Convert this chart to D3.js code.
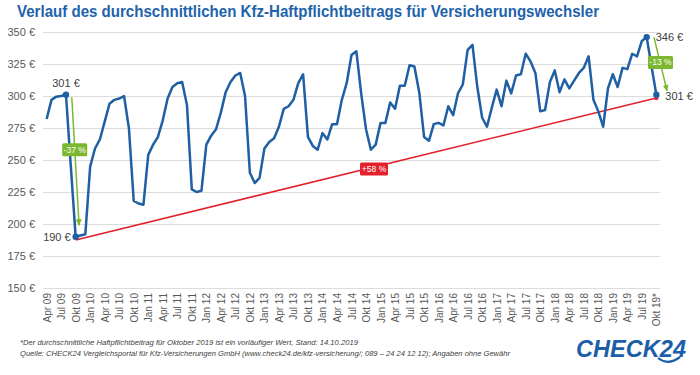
<!DOCTYPE html>
<html>
<head>
<meta charset="utf-8">
<script src="https://cdn.jsdelivr.net/npm/d3@7"></script>
<style>
  body { margin: 0; background: #fff; }
  svg { display: block; font-family: "Liberation Sans", Arial, sans-serif; }
  .axis text { fill: #595959; }
  .axis .domain { display: none; }
</style>
</head>
<body>
<div id="d3-container"></div>
<script>
// monthly premium in EUR, Apr 09 .. Okt 19
const values = [
  282, 297, 299.5, 300, 301, 245, 190, 191, 192,                 // 2009 (Apr-Dez)
  245, 259, 266, 280, 294, 297, 298, 300, 275, 218, 216, 215,    // 2010
  254, 262, 268, 281, 298, 307, 310, 311, 293, 227, 225, 226,    // 2011
  262, 269, 274, 287, 303, 311, 316, 318, 300, 240, 232, 236,    // 2012
  259, 264, 267, 276, 290, 292, 297, 310, 317, 268, 261, 258,    // 2013
  271, 266, 278, 278, 297, 310, 332, 335, 302, 274, 258, 262,    // 2014
  279, 279, 295, 290, 308, 308, 324, 323, 303, 268, 265, 278,    // 2015
  279, 277, 292, 285, 302, 309, 336, 340, 307, 283, 276, 291,    // 2016
  305, 292, 312, 302, 316, 317, 333, 327, 318, 288, 289, 311,    // 2017
  320, 303, 313, 306, 312, 318, 322, 331, 297, 288, 276, 306,    // 2018
  317, 307, 322, 321, 333, 331, 343, 346, 323, 301               // 2019 (Jan-Okt)
];
// one tick label every 3 months
const tickLabels = [
  "Apr 09", "Jul 09", "Okt 09",
  "Jan 10", "Apr 10", "Jul 10", "Okt 10",
  "Jan 11", "Apr 11", "Jul 11", "Okt 11",
  "Jan 12", "Apr 12", "Jul 12", "Okt 12",
  "Jan 13", "Apr 13", "Jul 13", "Okt 13",
  "Jan 14", "Apr 14", "Jul 14", "Okt 14",
  "Jan 15", "Apr 15", "Jul 15", "Okt 15",
  "Jan 16", "Apr 16", "Jul 16", "Okt 16",
  "Jan 17", "Apr 17", "Jul 17", "Okt 17",
  "Jan 18", "Apr 18", "Jul 18", "Okt 18",
  "Jan 19", "Apr 19", "Jul 19", "Okt 19*"
];
const yTicks = [150, 175, 200, 225, 250, 275, 300, 325, 350];
// highlighted points: [month index, value, label]
const marked = [[4, 301, "301 €"], [6, 190, "190 €"], [124, 346, "346 €"], [126, 301, "301 €"]];
// trend line Okt 09 -> Okt 19
const trend = [[6, 187.5], [126, 298.5]];
// drop arrows [[m, v], [m, v]] and their labels
const drops = [
  { from: [5.2, 299], to: [6.7, 199], label: "-37 %" },
  { from: [125.5, 346], to: [128.2, 304], label: "-13 %" }
];

const width = 700, height = 375,
  margin = { top: 32, bottom: 87, left: 43, right: 40 },
  blue = "#1f5fa3", green = "#7cb82f", red = "#e3212b";

const x = d3.scaleLinear()
  .domain([-0.75, values.length - 0.25])
  .range([margin.left, width - margin.right]);
const y = d3.scaleLinear()
  .domain([150, 350])
  .range([height - margin.bottom - 0, margin.top]);

const svg = d3.select("#d3-container")
  .append("svg")
  .attr("width", width)
  .attr("height", height);

svg.append("defs").append("marker")
  .attr("id", "arr")
  .attr("viewBox", "0 0 10 10")
  .attr("refX", 8).attr("refY", 5)
  .attr("markerWidth", 5).attr("markerHeight", 5)
  .attr("orient", "auto")
  .append("path")
  .attr("d", "M0,1 L9,5 L0,9 Z")
  .attr("fill", green);

// title
svg.append("text")
  .attr("x", 17).attr("y", 17)
  .attr("font-size", 16).attr("font-weight", "bold")
  .attr("fill", "#2163ab")
  .attr("textLength", 582).attr("lengthAdjust", "spacingAndGlyphs")
  .text("Verlauf des durchschnittlichen Kfz-Haftpflichtbeitrags für Versicherungswechsler");

// y axis + grid
const yAxis = svg.append("g")
  .attr("class", "axis")
  .attr("transform", `translate(${margin.left},0)`)
  .call(d3.axisLeft(y).tickValues(yTicks).tickSize(-(width - margin.left - margin.right)).tickPadding(8).tickFormat(d => d + " €"));
yAxis.selectAll("line").attr("stroke", "#dcdcdc");
yAxis.selectAll("text").attr("font-size", 11);

// x axis
const tickIdx = tickLabels.map((d, i) => i * 3);
const xAxis = svg.append("g")
  .attr("class", "axis")
  .attr("transform", `translate(0,${y(150)})`)
  .call(d3.axisBottom(x).tickValues(tickIdx).tickSize(0).tickFormat((d, i) => tickLabels[i]));
xAxis.selectAll("text")
  .attr("font-size", 10)
  .attr("text-anchor", "end")
  .attr("transform", "rotate(-90)")
  .attr("x", -5).attr("y", 0).attr("dy", "0.35em");

// trend line
svg.append("line")
  .attr("x1", x(trend[0][0])).attr("y1", y(trend[0][1]))
  .attr("x2", x(trend[1][0])).attr("y2", y(trend[1][1]))
  .attr("stroke", red).attr("stroke-width", 1.6);
svg.append("circle")
  .attr("cx", x(trend[1][0])).attr("cy", y(trend[1][1])).attr("r", 2.2)
  .attr("fill", red);

// main line
svg.append("path")
  .datum(values)
  .attr("fill", "none")
  .attr("stroke", blue)
  .attr("stroke-width", 2.5)
  .attr("stroke-linejoin", "round")
  .attr("d", d3.line().x((d, i) => x(i)).y(d => y(d)));

// marked points
svg.selectAll(".dot")
  .data(marked)
  .join("circle")
  .attr("class", "dot")
  .attr("cx", d => x(d[0])).attr("cy", d => y(d[1])).attr("r", 3.2)
  .attr("fill", blue);
const labelPos = [
  { dx: 0, dy: -8, anchor: "middle" },
  { dx: -5, dy: 4, anchor: "end" },
  { dx: 9, dy: 4, anchor: "start" },
  { dx: 9, dy: 5, anchor: "start" }
];
svg.selectAll(".ptlabel")
  .data(marked)
  .join("text")
  .attr("class", "ptlabel")
  .attr("x", (d, i) => x(d[0]) + labelPos[i].dx)
  .attr("y", (d, i) => y(d[1]) + labelPos[i].dy)
  .attr("text-anchor", (d, i) => labelPos[i].anchor)
  .attr("font-size", 11)
  .attr("fill", "#404040")
  .text(d => d[2]);

// drop arrows
drops.forEach(a => {
  svg.append("line")
    .attr("x1", x(a.from[0])).attr("y1", y(a.from[1]))
    .attr("x2", x(a.to[0])).attr("y2", y(a.to[1]))
    .attr("stroke", green).attr("stroke-width", 1.5)
    .attr("marker-end", "url(#arr)");
});

function badge(cx, cy, txt, fill, w) {
  const g = svg.append("g").attr("transform", `translate(${cx},${cy})`);
  g.append("rect")
    .attr("x", -w / 2).attr("y", -6.5).attr("width", w).attr("height", 13)
    .attr("rx", 1.5).attr("fill", fill);
  g.append("text")
    .attr("text-anchor", "middle").attr("dy", "0.35em")
    .attr("font-size", 8.5).attr("fill", "#fff")
    .text(txt);
}
badge(x(drops[0].from[0]) + 0.4 * (x(drops[0].to[0]) - x(drops[0].from[0])),
      y(drops[0].from[1]) + 0.41 * (y(drops[0].to[1]) - y(drops[0].from[1])), drops[0].label, green, 25);
badge(x(drops[1].from[0]) + 0.5 * (x(drops[1].to[0]) - x(drops[1].from[0])),
      y(drops[1].from[1]) + 0.47 * (y(drops[1].to[1]) - y(drops[1].from[1])), drops[1].label, green, 25);
badge((x(trend[0][0]) + x(trend[1][0])) / 2 + 8,
      (y(trend[0][1]) + y(trend[1][1])) / 2, "+58 %", red, 28);

// footnotes
svg.append("text")
  .attr("x", 20).attr("y", 345)
  .attr("font-size", 7.5).attr("font-style", "italic").attr("fill", "#404040")
  .attr("textLength", 338).attr("lengthAdjust", "spacingAndGlyphs")
  .text("*Der durchschnittliche Haftpflichtbeitrag für Oktober 2019 ist ein vorläufiger Wert, Stand: 14.10.2019");
svg.append("text")
  .attr("x", 20).attr("y", 356)
  .attr("font-size", 7.5).attr("font-style", "italic").attr("fill", "#404040")
  .attr("textLength", 490).attr("lengthAdjust", "spacingAndGlyphs")
  .text("Quelle: CHECK24 Vergleichsportal für Kfz-Versicherungen GmbH (www.check24.de/kfz-versicherung/; 089 – 24 24 12 12); Angaben ohne Gewähr");

// logo
svg.append("text")
  .attr("x", 576).attr("y", 357)
  .attr("font-size", 23).attr("font-weight", "bold").attr("font-style", "italic")
  .attr("fill", "#1d5ea8")
  .attr("textLength", 110).attr("lengthAdjust", "spacingAndGlyphs")
  .text("CHECK24");
svg.append("path")
  .attr("d", "M658,358 Q668,366 680,357")
  .attr("fill", "none").attr("stroke", "#1d5ea8").attr("stroke-width", 2.2);
</script>
</body>
</html>
